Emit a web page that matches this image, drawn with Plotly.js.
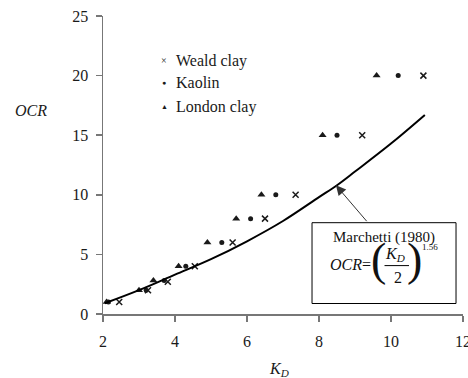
<!DOCTYPE html>
<html>
<head>
<meta charset="utf-8">
<script src="https://cdn.plot.ly/plotly-3.0.1.min.js"></script>
<style>html,body{margin:0;padding:0;background:#fff;font-family:'Liberation Serif';}</style>
</head>
<body>
<div id="chart" style="width:468px;height:378px;font-family:'Liberation Serif';"></div>
<script>
// Data
const wealdKD  = [2.45, 3.25, 3.8, 4.55, 5.6, 6.5, 7.35, 9.2, 10.9];
const wealdOCR = [1, 2, 2.7, 4, 6, 8, 10, 15, 20];
const kaolinKD  = [2.15, 3.2, 3.7, 4.3, 5.3, 6.1, 6.8, 8.5, 10.2];
const kaolinOCR = [1, 2, 2.8, 4, 6, 8, 10, 15, 20];
const londonKD  = [2.1, 3.0, 3.4, 4.1, 4.9, 5.7, 6.4, 8.1, 9.6];
const londonOCR = [1, 2, 2.8, 4, 6, 8, 10, 15, 20];
const marchettiKD  = [2.05, 3.0, 4.0, 5.0, 6.0, 7.0, 8.0, 8.5, 9.0, 10.0, 10.94];
const marchettiOCR = [0.9, 2.0, 3.3, 4.6, 6.1, 7.8, 9.8, 10.8, 11.95, 14.3, 16.7];
const xTicks = [2, 4, 6, 8, 10, 12];
const yTicks = [0, 5, 10, 15, 20, 25];
const legendNames = ["Weald clay", "Kaolin", "London clay"];
const legendGlyphs = ["\u00D7", "\u25CF", "\u25B2"];

const FONT = "Liberation Serif";
const ink = "#1a1a1a";

function draw() {
  const traces = [
    {x: wealdKD, y: wealdOCR, name: legendNames[0], mode: "markers", type: "scatter",
     marker: {symbol: "x-thin", size: 6, color: ink, line: {width: 1.5, color: ink}}},
    {x: kaolinKD, y: kaolinOCR, name: legendNames[1], mode: "markers", type: "scatter",
     marker: {symbol: "circle", size: 5, color: ink}},
    {x: londonKD, y: londonOCR, name: legendNames[2], mode: "markers", type: "scatter",
     marker: {symbol: "triangle-up", size: 7, color: ink}},
    {x: marchettiKD, y: marchettiOCR, name: "Marchetti (1980)", mode: "lines", type: "scatter",
     line: {color: "#000", width: 2, shape: "spline", smoothing: 1}}
  ];

  const legendRowsPx = [61, 83, 107];
  const glyphSizes = [10, 7, 7];
  const legendAnn = [];
  legendRowsPx.forEach((py, i) => {
    const yp = (314.5 - py) / 298.5;
    legendAnn.push({text: legendGlyphs[i], xref: "paper", yref: "paper", x: (164 - 103) / 360, y: yp,
      xanchor: "center", yanchor: "middle", showarrow: false,
      font: {family: FONT, size: glyphSizes[i], color: ink}});
    legendAnn.push({text: legendNames[i], xref: "paper", yref: "paper", x: (174 - 103) / 360, y: yp,
      xanchor: "left", yanchor: "middle", showarrow: false,
      font: {family: FONT, size: 16, color: ink}});
  });

  const layout = {
    width: 468, height: 378,
    margin: {l: 103, r: 5, t: 16, b: 64},
    paper_bgcolor: "#fff", plot_bgcolor: "#fff",
    font: {family: FONT, size: 14, color: ink},
    showlegend: false,
    xaxis: {range: [2, 12], tickvals: xTicks, ticktext: xTicks.map(String), showgrid: false, zeroline: false,
            showline: true, linecolor: "#777", linewidth: 1.5, ticks: "outside", ticklen: 6, tickcolor: "#777",
            tickwidth: 1.5, ticklabelstandoff: 6, ticklabeloverflow: "allow",
            tickfont: {family: FONT, size: 16, color: ink}},
    yaxis: {range: [0, 25], tickvals: yTicks, ticktext: yTicks.map(String), showgrid: false, zeroline: false,
            showline: true, linecolor: "#777", linewidth: 1.5, ticks: "outside", ticklen: 6, tickcolor: "#777",
            tickwidth: 1.5, ticklabelstandoff: 4, ticklabeloverflow: "allow",
            tickfont: {family: FONT, size: 16, color: ink}},
    shapes: [
      {type: "rect", xref: "x", yref: "y", x0: 7.806, x1: 11.806, y0: 0.88, y1: 7.66,
       line: {color: "#000", width: 1}, fillcolor: "#fff", layer: "above"},
      {type: "line", xref: "x", yref: "y", x0: 9.82, x1: 10.5, y0: 4.06, y1: 4.06,
       line: {color: "#000", width: 1}, layer: "above"}
    ],
    annotations: legendAnn.concat([
      {text: "<i>OCR</i>", xref: "paper", x: 0, xshift: -72, yref: "y", y: 17.1, showarrow: false,
       xanchor: "center", yanchor: "middle", font: {family: FONT, size: 16, color: ink}},
      {text: "<i>K<sub>D</sub></i>", xref: "paper", x: 0.49, yref: "paper", y: 0, yshift: -55,
       showarrow: false, xanchor: "center", yanchor: "middle", font: {family: FONT, size: 16, color: ink}},
      {text: "", xref: "x", yref: "y", x: 8.47, y: 10.8, axref: "x", ayref: "y", ax: 9.36, ay: 7.66,
       showarrow: true, arrowhead: 2, arrowsize: 2, arrowwidth: 1, arrowcolor: "#333", standoff: 0},
      {text: "Marchetti (1980)", xref: "x", yref: "y", x: 9.806, y: 6.45, showarrow: false,
       xanchor: "center", yanchor: "middle", font: {family: FONT, size: 15, color: "#111"}},
      {text: "<i>OCR</i>=", xref: "x", yref: "y", x: 9.5, y: 4.15, showarrow: false,
       xanchor: "right", yanchor: "middle", font: {family: FONT, size: 16, color: "#111"}},
      {text: "(", xref: "x", yref: "y", x: 9.64, y: 4.55, showarrow: false,
       xanchor: "center", yanchor: "middle", font: {family: FONT, size: 46, color: "#111"}},
      {text: ")", xref: "x", yref: "y", x: 10.66, y: 4.55, showarrow: false,
       xanchor: "center", yanchor: "middle", font: {family: FONT, size: 46, color: "#111"}},
      {text: "<i>K<sub>D</sub></i>", xref: "x", yref: "y", x: 10.12, y: 5.0, showarrow: false,
       xanchor: "center", yanchor: "middle", font: {family: FONT, size: 16, color: "#111"}},
      {text: "2", xref: "x", yref: "y", x: 10.2, y: 3.1, showarrow: false,
       xanchor: "center", yanchor: "middle", font: {family: FONT, size: 16, color: "#111"}},
      {text: "1.56", xref: "x", yref: "y", x: 11.07, y: 5.6, showarrow: false,
       xanchor: "center", yanchor: "middle", font: {family: FONT, size: 9, color: "#111"}}
    ])
  };

  Plotly.newPlot("chart", traces, layout, {displayModeBar: false, staticPlot: true});
}

if (document.fonts && document.fonts.load) {
  document.fonts.load('16px "Liberation Serif"').then(draw, draw);
} else {
  draw();
}
</script>
</body>
</html>
